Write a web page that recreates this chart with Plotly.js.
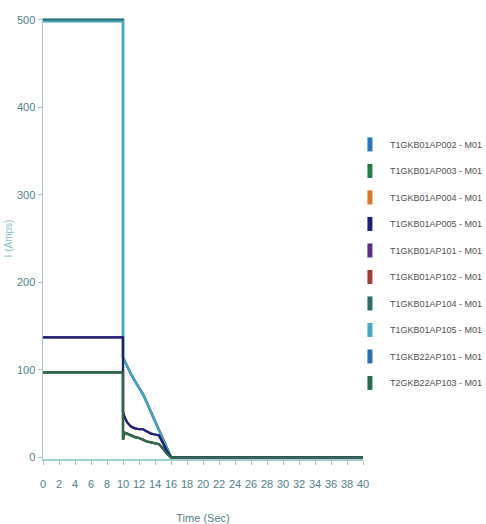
<!DOCTYPE html>
<html><head><meta charset="utf-8">
<script src="https://cdn.plot.ly/plotly-3.0.1.min.js"></script>
<style>html,body{margin:0;padding:0;background:#fff}#chart{width:486px;height:524px}</style>
</head><body><div id="chart"></div>
<script>
// Series names (legend order) and colours
const seriesNames = ["T1GKB01AP002 - M01","T1GKB01AP003 - M01","T1GKB01AP004 - M01","T1GKB01AP005 - M01","T1GKB01AP101 - M01","T1GKB01AP102 - M01","T1GKB01AP104 - M01","T1GKB01AP105 - M01","T1GKB22AP101 - M01","T2GKB22AP103 - M01"];
const seriesColors = ["#2b74b8","#287a4a","#e0782c","#1c2070","#5b2d87","#a33b3b","#2a6e66","#4aa6be","#2d6fae","#2a6a4e"];

// Time axis samples (s)
const time = [0,10,10,10.2,10.5,11,11.5,12,12.5,13,13.5,14,14.5,15,15.5,16,40];
// Current values (A)
const high500   = [500,500,114,110,104,95,87,80,72,62,52,42,31,22,11,0,0];
const high498   = [498,498,114,110,104,95,87,80,72,62,52,42,31,22,11,0,0];
const mid137    = [137,137,52,46,40,35,33,32,32,29,27,26,25,16,7,0,0];
const low97     = [97,97,20,28,27,25,23,22,20,18,17,16,15,10,4,0,0];

// Which values each series follows
const seriesValues = [high500, low97, low97, mid137, mid137, low97, high500, high498, high500, low97];
// Drawing order (bottom -> top), indexes into seriesNames
const drawOrder = [0,8,6,7,2,5,1,4,3,9];

const xTicks = [0,2,4,6,8,10,12,14,16,18,20,22,24,26,28,30,32,34,36,38,40];
const yTicks = [0,100,200,300,400,500];

const traces = [];
drawOrder.forEach(i => {
  traces.push({type:'scatter',mode:'lines',x:time,y:seriesValues[i],name:seriesNames[i],
    legendgroup:'g'+i,showlegend:false,hoverinfo:'skip',
    line:{color:seriesColors[i],width:2.2}});
});
seriesNames.forEach((n,i)=>{
  traces.push({type:'scatter',mode:'markers',x:[null],y:[null],name:n,legendgroup:'g'+i,legendrank:i+1,
    marker:{symbol:'line-ns',size:10,line:{color:seriesColors[i],width:5}}});
});

const fam = '"Liberation Sans", Arial, sans-serif';
const tickFont = {family:fam,size:11,color:'#4f8088'};
const layout = {
  width:486,height:524,
  margin:{l:43,r:123,t:18,b:65,autoexpand:false},
  paper_bgcolor:'#ffffff',plot_bgcolor:'#ffffff',
  showlegend:true,
  legend:{xref:'container',yref:'container',x:0.72,xanchor:'left',y:0.752,yanchor:'top',
    traceorder:'grouped',tracegroupgap:7.5,
    font:{family:fam,size:9,color:'#505050'},
    bgcolor:'rgba(0,0,0,0)'},
  xaxis:{range:[0,40],tickvals:xTicks,ticktext:xTicks.map(String),tickangle:0,showgrid:false,zeroline:false,
    showline:true,linecolor:'#9ccfd0',linewidth:1.5,ticks:'outside',ticklen:4,tickcolor:'#b0b8b8',
    tickfont:tickFont,ticklabelstandoff:10,
    title:{text:'Time (Sec)',font:{family:fam,size:11,color:'#4f8088'},standoff:26}},
  yaxis:{range:[-2,502],tickvals:yTicks,ticktext:yTicks.map(String),showgrid:false,zeroline:false,
    showline:true,linecolor:'#a8c4c6',linewidth:1.5,ticks:'outside',ticklen:4,tickcolor:'#a8c4c6',
    tickfont:tickFont,
    title:{text:'I (Amps)',font:{family:fam,size:10,color:'#8cc0c8'},standoff:2}}
};
Plotly.newPlot('chart',traces,layout,{displayModeBar:false,staticPlot:true});
</script></body></html>
